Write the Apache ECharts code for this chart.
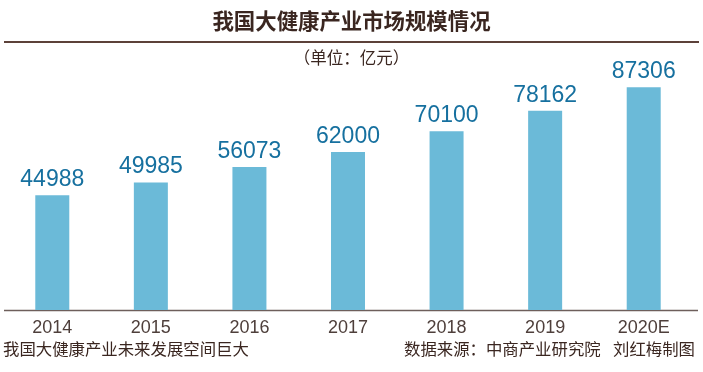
<!DOCTYPE html>
<html><head><meta charset="utf-8">
<script src="https://cdn.jsdelivr.net/npm/echarts@6/dist/echarts.min.js"></script>
<style>html,body{margin:0;padding:0;background:#fff}#c{width:703px;height:372px}</style>
</head><body><div id="c"></div>
<script>
const categories = ['2014','2015','2016','2017','2018','2019','2020E'];
const values = [44988, 49985, 56073, 62000, 70100, 78162, 87306];
const titleText = '我国大健康产业市场规模情况';
const unitText = '（单位：亿元）';
const captionText = '我国大健康产业未来发展空间巨大';
const sourceText = '数据来源：中商产业研究院';
const authorText = '刘红梅制图';

const cjk = '"Noto Sans CJK SC", sans-serif';
const chart = echarts.init(document.getElementById('c'), null, {renderer:'canvas'});
chart.setOption({
  backgroundColor:'#ffffff',
  animation:false,
  grid:{left:3, right:10, top:55, bottom:62},
  xAxis:{type:'category', data:categories,
    axisLine:{show:false}, axisTick:{show:false},
    axisLabel:{color:'#4e3f3b', fontSize:18, fontFamily:'"Liberation Sans", Arial, sans-serif', margin:9}},
  yAxis:{type:'value', min:0, max:100000, show:false, splitLine:{show:false}},
  series:[{type:'bar', data:values, barWidth:34,
    itemStyle:{color:'#6bbad8'},
    label:{show:true, position:'top', distance:4, color:'#16709f', fontSize:23,
      fontFamily:'"Liberation Sans", Arial, sans-serif', fontWeight:'normal'}}],
  graphic:[
    {type:'text', left:'center', top:10, style:{text:titleText, font:'bold 21.4px '+cjk, fill:'#3a2620'}},
    {type:'line', shape:{x1:4,y1:42,x2:699,y2:42}, style:{stroke:'#5c4139', lineWidth:2}},
    {type:'text', left:'center', top:49, style:{text:unitText, font:'16.5px '+cjk, fill:'#3a2620'}},
    {type:'line', shape:{x1:4,y1:310.5,x2:698,y2:310.5}, style:{stroke:'#6e5f5b', lineWidth:1.5}},
    {type:'text', left:3, top:341, style:{text:captionText, font:'16.4px '+cjk, fill:'#3a2620'}},
    {type:'text', left:404, top:341, style:{text:sourceText, font:'16.4px '+cjk, fill:'#3a2620'}},
    {type:'text', left:613, top:341, style:{text:authorText, font:'16.4px '+cjk, fill:'#3a2620'}}
  ]
});
</script></body></html>
